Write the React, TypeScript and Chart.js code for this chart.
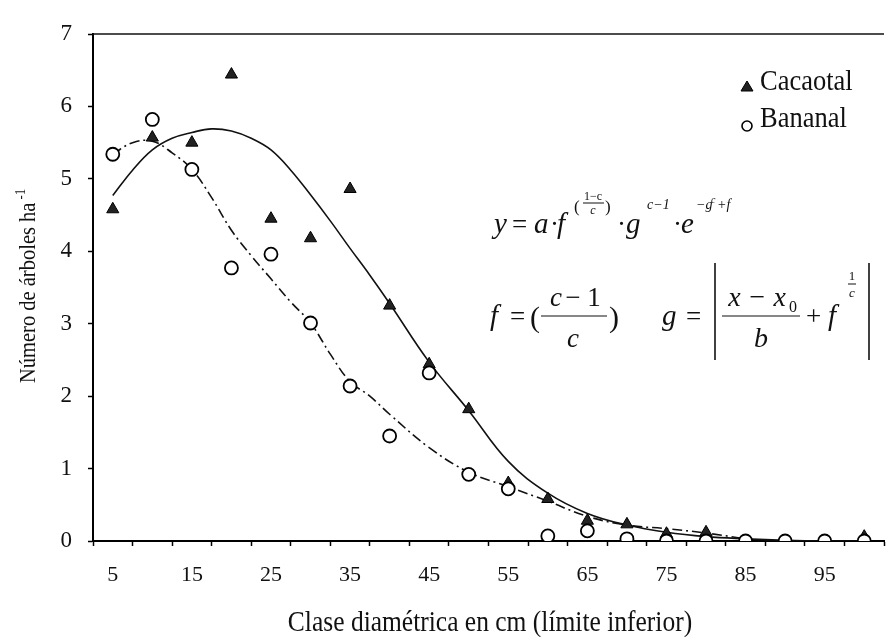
import React, { useEffect, useRef } from 'react';
import { Chart, registerables } from 'chart.js';

Chart.register(...registerables);

// Diameter classes (cm, lower limit)
const classes = [5, 10, 15, 20, 25, 30, 35, 40, 45, 50, 55, 60, 65, 70, 75, 80, 85, 90, 95, 100];
const xTickLabels = [5, 15, 25, 35, 45, 55, 65, 75, 85, 95];
const yTickValues = [0, 1, 2, 3, 4, 5, 6, 7];

// Observed values (trees per ha)
const cacaotalObs = [4.58, 5.57, 5.5, 6.44, 4.45, 4.18, 4.86, 3.25, 2.44, 1.82, 0.8, 0.58, 0.28, 0.23, 0.1, 0.12, 0, 0, 0, 0.06];
const bananalObs = [5.34, 5.82, 5.13, 3.77, 3.96, 3.01, 2.14, 1.45, 2.32, 0.92, 0.72, 0.07, 0.14, 0.03, 0, 0, 0, 0, 0, 0];

// Fitted curves
const cacaotalFitX = [5, 7.5, 10, 12.5, 15, 17.5, 20, 22.5, 25, 27.5, 30, 32.5, 35, 37.5, 40, 45, 50, 55, 60, 65, 70, 75, 80, 85, 90, 95, 100];
const cacaotalFitY = [4.77, 5.12, 5.4, 5.56, 5.64, 5.69, 5.66, 5.56, 5.4, 5.12, 4.78, 4.42, 4.04, 3.67, 3.28, 2.47, 1.8, 1.1, 0.66, 0.38, 0.22, 0.12, 0.06, 0.03, 0.01, 0, 0];
const bananalFitX = [5, 7.5, 10, 12.5, 15, 17.5, 20, 22.5, 25, 27.5, 30, 32.5, 35, 37.5, 40, 45, 50, 55, 60, 65, 70, 75, 80, 85];
const bananalFitY = [5.34, 5.5, 5.52, 5.36, 5.13, 4.74, 4.29, 3.94, 3.62, 3.3, 3.01, 2.58, 2.2, 2.0, 1.75, 1.29, 0.95, 0.75, 0.55, 0.34, 0.22, 0.17, 0.11, 0.03];

const SERIF = '"Liberation Serif", "Times New Roman", "DejaVu Serif", serif';
const INK = '#111';

function font(size: number, italic = false) {
  return `${italic ? 'italic ' : ''}${size}px ${SERIF}`;
}

function txt(ctx: CanvasRenderingContext2D, s: string, x: number, y: number, size: number, italic = false, align: CanvasTextAlign = 'left', sy = 1) {
  ctx.save();
  ctx.font = font(size, italic);
  ctx.textAlign = align;
  ctx.textBaseline = 'alphabetic';
  ctx.fillStyle = INK;
  ctx.translate(x, y);
  ctx.scale(1, sy);
  ctx.fillText(s, 0, 0);
  ctx.restore();
}

function hline(ctx: CanvasRenderingContext2D, x1: number, x2: number, y: number, w = 1.2) {
  ctx.save();
  ctx.strokeStyle = INK;
  ctx.lineWidth = w;
  ctx.beginPath();
  ctx.moveTo(x1, y);
  ctx.lineTo(x2, y);
  ctx.stroke();
  ctx.restore();
}

function vline(ctx: CanvasRenderingContext2D, x: number, y1: number, y2: number, w = 1.6) {
  ctx.save();
  ctx.strokeStyle = INK;
  ctx.lineWidth = w;
  ctx.beginPath();
  ctx.moveTo(x, y1);
  ctx.lineTo(x, y2);
  ctx.stroke();
  ctx.restore();
}

const decorPlugin = {
  id: 'decor',
  afterDraw(chart: any) {
    const ctx: CanvasRenderingContext2D = chart.ctx;
    const a = chart.chartArea;
    // top frame line
    hline(ctx, a.left, a.right, a.top, 1.6);

    // y axis title
    ctx.save();
    ctx.translate(35, 383);
    ctx.rotate(-Math.PI / 2);
    ctx.font = font(20.5);
    ctx.fillStyle = INK;
    const yt = 'Número de árboles ha';
    ctx.scale(1, 1.1);
    ctx.fillText(yt, 0, 0);
    const w = ctx.measureText(yt).width;
    ctx.font = font(13);
    ctx.fillText('-1', w + 3, -9);
    ctx.restore();

    // x axis title
    txt(ctx, 'Clase diamétrica en cm (límite inferior)', 490, 631, 25.5, false, 'center', 1.15);

    // legend
    ctx.save();
    ctx.fillStyle = '#222';
    ctx.strokeStyle = '#000';
    ctx.lineWidth = 1;
    ctx.beginPath();
    ctx.moveTo(747, 81);
    ctx.lineTo(753, 91);
    ctx.lineTo(741, 91);
    ctx.closePath();
    ctx.fill();
    ctx.stroke();
    ctx.fillStyle = '#fff';
    ctx.lineWidth = 1.6;
    ctx.beginPath();
    ctx.arc(747, 126, 5, 0, Math.PI * 2);
    ctx.fill();
    ctx.stroke();
    ctx.restore();
    txt(ctx, 'Cacaotal', 760, 90, 26.5, false, 'left', 1.12);
    txt(ctx, 'Bananal', 760, 127, 26.5, false, 'left', 1.12);

    // formula line 1
    const b1 = 233;
    txt(ctx, 'y', 494, b1, 29, true);
    txt(ctx, '=', 512, b1, 27);
    txt(ctx, 'a', 534, b1, 29, true);
    txt(ctx, '·', 550, b1, 27);
    txt(ctx, 'f', 557, b1, 29, true);
    txt(ctx, '(', 574, 212, 17);
    txt(ctx, '1−c', 593, 200, 12, false, 'center');
    hline(ctx, 583, 604, 203, 1);
    txt(ctx, 'c', 593, 214, 12, true, 'center');
    txt(ctx, ')', 605, 212, 17);
    txt(ctx, '·', 617, b1, 27);
    txt(ctx, 'g', 626, b1, 29, true);
    txt(ctx, 'c−1', 647, 209, 14, true);
    txt(ctx, '·', 673, b1, 27);
    txt(ctx, 'e', 681, b1, 29, true);
    txt(ctx, '−g', 696, 209, 14, true);
    txt(ctx, 'c', 711, 203, 10, true);
    txt(ctx, '+f', 717, 209, 14, true);

    // formula line 2
    const b2 = 325;
    txt(ctx, 'f', 490, b2, 29, true);
    txt(ctx, '=', 510, b2, 27);
    txt(ctx, '(', 530, 327, 30);
    txt(ctx, 'c', 556, 306, 27, true, 'center');
    txt(ctx, '− 1', 583, 306, 27, false, 'center');
    hline(ctx, 541, 607, 316, 1.2);
    txt(ctx, 'c', 573, 347, 27, true, 'center');
    txt(ctx, ')', 609, 327, 30);
    txt(ctx, 'g', 662, b2, 29, true);
    txt(ctx, '=', 686, b2, 27);
    vline(ctx, 715, 263, 360, 1.6);
    txt(ctx, 'x − x', 757, 306, 28, true, 'center');
    txt(ctx, '0', 789, 312, 16);
    hline(ctx, 722, 800, 316, 1.2);
    txt(ctx, 'b', 761, 347, 28, true, 'center');
    txt(ctx, '+', 806, b2, 27);
    txt(ctx, 'f', 828, b2, 29, true);
    txt(ctx, '1', 852, 280, 13, false, 'center');
    hline(ctx, 848, 856, 284, 1);
    txt(ctx, 'c', 852, 297, 13, true, 'center');
    vline(ctx, 869, 263, 360, 1.6);
  },
};

export default function App() {
  const ref = useRef<HTMLCanvasElement | null>(null);

  useEffect(() => {
    document.body.style.margin = '0';
    const canvas = ref.current;
    if (!canvas) return;

    const boundaries = classes.map((c) => c - 2.5).concat([classes[classes.length - 1] + 2.5]);
    const isBoundary = (v: number) => boundaries.some((b) => Math.abs(b - v) < 1e-6);

    const chart = new Chart(canvas, {
      type: 'line',
      data: {
        datasets: [
          {
            label: 'Bananal',
            data: classes.map((x, i) => ({ x, y: bananalObs[i] })),
            showLine: false,
            pointStyle: 'circle',
            pointRadius: 6.5,
            pointBackgroundColor: '#fff',
            pointBorderColor: '#000',
            pointBorderWidth: 1.8,
          },
          {
            label: 'Cacaotal',
            data: classes.map((x, i) => ({ x, y: cacaotalObs[i] })),
            showLine: false,
            pointStyle: 'triangle',
            pointRadius: 7,
            pointBackgroundColor: '#222',
            pointBorderColor: '#000',
            pointBorderWidth: 1,
          },
          {
            label: 'Ajuste Cacaotal',
            data: cacaotalFitX.map((x, i) => ({ x, y: cacaotalFitY[i] })),
            borderColor: '#111',
            borderWidth: 1.6,
            pointRadius: 0,
            tension: 0.4,
            fill: false,
          },
          {
            label: 'Ajuste Bananal',
            data: bananalFitX.map((x, i) => ({ x, y: bananalFitY[i] })),
            borderColor: '#111',
            borderWidth: 1.6,
            borderDash: [10, 4, 2, 4],
            pointRadius: 0,
            tension: 0.4,
            fill: false,
          },
        ],
      },
      options: {
        animation: false,
        responsive: false,
        devicePixelRatio: 1,
        layout: { padding: { top: 34, right: 7, left: 0, bottom: 0 } },
        plugins: { legend: { display: false }, tooltip: { enabled: false } },
        scales: {
          x: {
            type: 'linear',
            min: classes[0] - 2.5,
            max: classes[classes.length - 1] + 2.5,
            afterBuildTicks: (scale: any) => {
              const vals = boundaries.concat(xTickLabels).sort((p, q) => p - q);
              scale.ticks = vals.map((value) => ({ value }));
            },
            afterFit: (scale: any) => {
              scale.height = 637 - 541;
            },
            ticks: {
              autoSkip: false,
              maxRotation: 0,
              padding: 16,
              color: INK,
              font: { family: SERIF, size: 22 },
              callback: (v: any) => (xTickLabels.includes(Number(v)) ? String(v) : ''),
            },
            grid: {
              drawOnChartArea: false,
              drawTicks: true,
              tickLength: 5,
              tickWidth: 1.5,
              tickColor: (c: any) => (c.tick && isBoundary(c.tick.value) ? '#000' : 'rgba(0,0,0,0)'),
            },
            border: { display: true, color: '#000', width: 2 },
          },
          y: {
            type: 'linear',
            min: 0,
            max: 7,
            afterBuildTicks: (scale: any) => {
              scale.ticks = yTickValues.map((value) => ({ value }));
            },
            afterFit: (scale: any) => {
              scale.width = 93;
            },
            ticks: {
              padding: 16,
              color: INK,
              font: { family: SERIF, size: 23 },
            },
            grid: {
              drawOnChartArea: false,
              drawTicks: true,
              tickLength: 5,
              tickWidth: 1.5,
              tickColor: '#000',
            },
            border: { display: true, color: '#000', width: 2 },
          },
        },
      },
      plugins: [decorPlugin],
    } as any);

    return () => chart.destroy();
  }, []);

  return (
    <div style={{ width: 889, height: 637, overflow: 'hidden', position: 'relative', background: '#fff' }}>
      <canvas ref={ref} width={900} height={637} style={{ display: 'block', width: 900, height: 637 }} />
    </div>
  );
}
